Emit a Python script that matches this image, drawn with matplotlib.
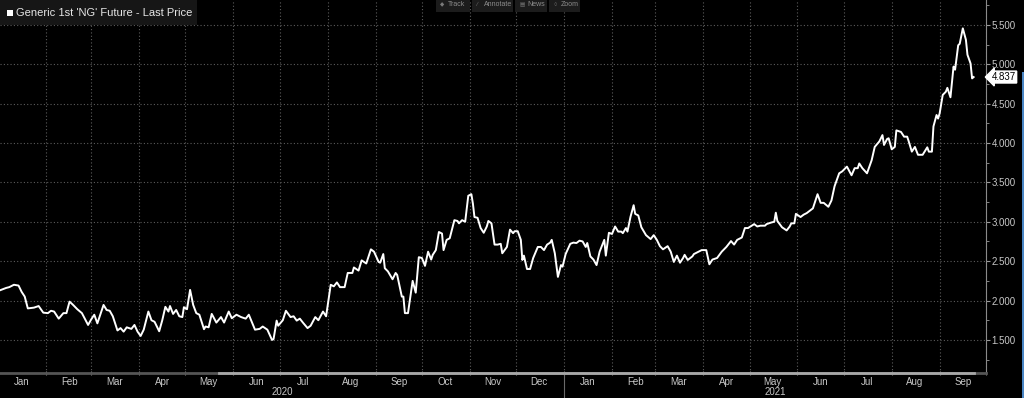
import numpy as np
import pandas as pd
import matplotlib
matplotlib.use("Agg")
import matplotlib.pyplot as plt
import matplotlib.dates as mdates
import matplotlib.ticker as mticker
import matplotlib.transforms as mtransforms
from matplotlib.patches import Rectangle

plt.rcParams['font.family'] = ['Liberation Sans', 'DejaVu Sans']

title = "Generic 1st 'NG' Future - Last Price"
toolbar_labels = ["Track", "Annotate", "News", "Zoom"]
toolbar_icons = ["\u25c6", "\u2215", "\u25a4", "\u25cb"]

# values (USD/MMBtu)
dates_2020 = [
    "2020-01-02", "2020-01-06", "2020-01-08", "2020-01-11", "2020-01-14", "2020-01-16",
    "2020-01-18", "2020-01-20", "2020-01-22", "2020-01-24", "2020-01-27", "2020-01-30",
    "2020-02-02", "2020-02-04", "2020-02-06", "2020-02-09", "2020-02-12", "2020-02-14",
    "2020-02-16", "2020-02-18", "2020-02-21", "2020-02-24", "2020-02-28", "2020-03-01",
    "2020-03-03", "2020-03-05", "2020-03-09", "2020-03-11", "2020-03-13", "2020-03-15",
    "2020-03-18", "2020-03-20", "2020-03-22", "2020-03-24", "2020-03-27", "2020-03-29",
    "2020-03-31", "2020-04-02", "2020-04-04", "2020-04-07", "2020-04-09", "2020-04-11",
    "2020-04-14", "2020-04-16", "2020-04-18", "2020-04-20", "2020-04-21", "2020-04-23",
    "2020-04-25", "2020-04-27", "2020-04-29", "2020-04-30", "2020-05-02", "2020-05-04",
    "2020-05-06", "2020-05-08", "2020-05-10", "2020-05-13", "2020-05-14", "2020-05-16",
    "2020-05-18", "2020-05-21", "2020-05-24", "2020-05-26", "2020-05-29", "2020-05-31",
    "2020-06-03", "2020-06-06", "2020-06-09", "2020-06-11", "2020-06-15", "2020-06-18",
    "2020-06-20", "2020-06-23", "2020-06-26", "2020-06-27", "2020-06-29", "2020-06-30",
    "2020-07-03", "2020-07-05", "2020-07-08", "2020-07-10", "2020-07-12", "2020-07-14",
    "2020-07-16", "2020-07-19", "2020-07-21", "2020-07-24", "2020-07-26", "2020-07-29",
    "2020-07-31", "2020-08-03", "2020-08-05", "2020-08-07", "2020-08-09", "2020-08-12",
    "2020-08-14", "2020-08-17", "2020-08-18", "2020-08-21", "2020-08-23", "2020-08-26",
    "2020-08-29", "2020-08-31", "2020-09-03", "2020-09-04", "2020-09-06", "2020-09-07",
    "2020-09-09", "2020-09-12", "2020-09-14", "2020-09-15", "2020-09-18", "2020-09-19",
    "2020-09-20", "2020-09-22", "2020-09-25", "2020-09-27", "2020-09-29", "2020-10-01",
    "2020-10-03", "2020-10-05", "2020-10-07", "2020-10-08", "2020-10-10", "2020-10-12",
    "2020-10-14", "2020-10-15", "2020-10-17", "2020-10-19", "2020-10-22", "2020-10-24",
    "2020-10-25", "2020-10-27", "2020-10-29", "2020-10-31", "2020-11-02", "2020-11-03",
    "2020-11-04", "2020-11-06", "2020-11-08", "2020-11-10", "2020-11-12", "2020-11-13",
    "2020-11-15", "2020-11-17", "2020-11-19", "2020-11-21", "2020-11-22", "2020-11-25",
    "2020-11-27", "2020-11-29", "2020-11-30", "2020-12-02", "2020-12-04", "2020-12-05",
    "2020-12-06", "2020-12-08", "2020-12-10", "2020-12-12", "2020-12-15", "2020-12-17",
    "2020-12-19", "2020-12-21", "2020-12-23", "2020-12-24", "2020-12-26", "2020-12-28",
    "2020-12-30", "2020-12-31",
]
prices_2020 = [
    2.13, 2.16, 2.17, 2.20, 2.19, 2.11,
    2.05, 1.90, 1.905, 1.91, 1.93, 1.846,
    1.84, 1.87, 1.86, 1.77, 1.84, 1.84,
    1.986, 1.95, 1.89, 1.84, 1.69, 1.76,
    1.82, 1.71, 1.944, 1.88, 1.87, 1.80,
    1.62, 1.65, 1.605, 1.66, 1.64, 1.69,
    1.605, 1.55, 1.63, 1.86, 1.75, 1.73,
    1.61, 1.75, 1.92, 1.86, 1.93, 1.83,
    1.88, 1.80, 1.79, 1.915, 1.89, 2.135,
    1.944, 1.84, 1.82, 1.636, 1.67, 1.66,
    1.83, 1.72, 1.79, 1.72, 1.86, 1.775,
    1.82, 1.79, 1.77, 1.82, 1.63, 1.64,
    1.67, 1.63, 1.50, 1.51, 1.745, 1.68,
    1.75, 1.87, 1.79, 1.80, 1.745, 1.77,
    1.72, 1.65, 1.68, 1.79, 1.75, 1.86,
    1.80, 2.20, 2.18, 2.23, 2.17, 2.17,
    2.35, 2.35, 2.42, 2.38, 2.51, 2.47,
    2.65, 2.62, 2.49, 2.48, 2.59, 2.41,
    2.37, 2.27, 2.35, 2.325, 2.05, 2.05,
    1.84, 1.84, 2.25, 2.10, 2.55, 2.54,
    2.44, 2.62, 2.52, 2.58, 2.64, 2.87,
    2.85, 2.64, 2.77, 2.79, 3.02, 3.01,
    2.98, 3.02, 3.00, 3.33, 3.35, 3.23,
    3.06, 3.05, 2.92, 2.86, 2.94, 3.01,
    2.98, 2.71, 2.71, 2.72, 2.60, 2.68,
    2.90, 2.855, 2.88, 2.88, 2.77, 2.515,
    2.57, 2.40, 2.40, 2.54, 2.68, 2.68,
    2.64, 2.71, 2.735, 2.77, 2.60, 2.30,
    2.45, 2.43,
]
dates_2021 = [
    "2021-01-02", "2021-01-05", "2021-01-07", "2021-01-09", "2021-01-11", "2021-01-13",
    "2021-01-15", "2021-01-16", "2021-01-18", "2021-01-20", "2021-01-22", "2021-01-24",
    "2021-01-27", "2021-01-28", "2021-01-30", "2021-02-01", "2021-02-03", "2021-02-05",
    "2021-02-07", "2021-02-08", "2021-02-10", "2021-02-11", "2021-02-13", "2021-02-15",
    "2021-02-16", "2021-02-18", "2021-02-20", "2021-02-23", "2021-02-26", "2021-02-28",
    "2021-03-02", "2021-03-04", "2021-03-06", "2021-03-09", "2021-03-11", "2021-03-13",
    "2021-03-15", "2021-03-17", "2021-03-19", "2021-03-20", "2021-03-22", "2021-03-25",
    "2021-03-26", "2021-03-29", "2021-03-31", "2021-04-03", "2021-04-05", "2021-04-07",
    "2021-04-10", "2021-04-13", "2021-04-16", "2021-04-19", "2021-04-21", "2021-04-23",
    "2021-04-26", "2021-04-28", "2021-04-30", "2021-05-04", "2021-05-06", "2021-05-08",
    "2021-05-11", "2021-05-12", "2021-05-15", "2021-05-17", "2021-05-18", "2021-05-19",
    "2021-05-22", "2021-05-25", "2021-05-27", "2021-05-28", "2021-05-30", "2021-05-31",
    "2021-06-03", "2021-06-05", "2021-06-07", "2021-06-09", "2021-06-11", "2021-06-14",
    "2021-06-16", "2021-06-18", "2021-06-21", "2021-06-23", "2021-06-25", "2021-06-28",
    "2021-06-30", "2021-07-03", "2021-07-06", "2021-07-08", "2021-07-10", "2021-07-11",
    "2021-07-13", "2021-07-16", "2021-07-19", "2021-07-21", "2021-07-24", "2021-07-26",
    "2021-07-27", "2021-07-29", "2021-07-30", "2021-08-01", "2021-08-03", "2021-08-04",
    "2021-08-07", "2021-08-09", "2021-08-11", "2021-08-12", "2021-08-14", "2021-08-16",
    "2021-08-18", "2021-08-21", "2021-08-24", "2021-08-25", "2021-08-27", "2021-08-28",
    "2021-08-30", "2021-08-31", "2021-09-01", "2021-09-03", "2021-09-05", "2021-09-06",
    "2021-09-08", "2021-09-10", "2021-09-11", "2021-09-13", "2021-09-14", "2021-09-16",
    "2021-09-18", "2021-09-19", "2021-09-21", "2021-09-22", "2021-09-23",
]
prices_2021 = [
    2.59, 2.72, 2.735, 2.73, 2.76, 2.75,
    2.68, 2.73, 2.56, 2.52, 2.45, 2.62,
    2.77, 2.57, 2.86, 2.845, 2.94, 2.875,
    2.875, 2.855, 2.92, 2.875, 3.065, 3.21,
    3.10, 3.08, 2.93, 2.83, 2.78, 2.83,
    2.77, 2.69, 2.65, 2.69, 2.62, 2.49,
    2.57, 2.48, 2.54, 2.58, 2.515, 2.56,
    2.59, 2.62, 2.64, 2.64, 2.46, 2.52,
    2.54, 2.62, 2.68, 2.755, 2.71, 2.77,
    2.80, 2.92, 2.92, 2.97, 2.94, 2.95,
    2.95, 2.97, 2.99, 3.00, 3.115, 3.01,
    2.93, 2.89, 2.94, 2.98, 2.98, 3.10,
    3.06, 3.09, 3.11, 3.14, 3.17, 3.35,
    3.24, 3.24, 3.19, 3.27, 3.45, 3.615,
    3.64, 3.70, 3.59, 3.68, 3.68, 3.74,
    3.68, 3.615, 3.78, 3.95, 4.02, 4.10,
    3.975, 4.05, 4.06, 3.92, 3.95, 4.16,
    4.14, 4.08, 4.08, 4.02, 3.89, 3.95,
    3.85, 3.85, 3.945, 3.89, 3.89, 4.21,
    4.355, 4.31, 4.375, 4.61, 4.65, 4.70,
    4.58, 4.97, 4.93, 5.24, 5.26, 5.455,
    5.31, 5.12, 5.01, 4.82, 4.837,
]
y_ticks = [1.5, 2.0, 2.5, 3.0, 3.5, 4.0, 4.5, 5.0, 5.5]
years = ["2020", "2021"]

dates = pd.to_datetime(dates_2020 + dates_2021)
prices = np.array(prices_2020 + prices_2021)

W, H = 1024, 398
fig = plt.figure(figsize=(W / 100, H / 100), dpi=100, facecolor="black")
ax = fig.add_axes([0, 25 / H, 986 / W, 373 / H])
ax.set_facecolor("black")

ax.plot(dates, prices, color="white", lw=1.4, solid_joinstyle="round", zorder=3)

x_start, x_end = pd.Timestamp("2020-01-02"), pd.Timestamp("2021-10-01")
ax.set_xlim(x_start, x_end)
ax.set_ylim(1.08, 5.815)

grid_kw = dict(color="#5c5c5c", linestyle=(0, (1, 2)), lw=0.8)
ax.grid(True, which="major", **grid_kw)

# x axis: gridlines at month starts, labels mid-month
ax.xaxis.set_major_locator(mdates.MonthLocator())
ax.xaxis.set_major_formatter(mticker.NullFormatter())
ax.xaxis.set_minor_locator(mdates.MonthLocator(bymonthday=16))
ax.xaxis.set_minor_formatter(mdates.DateFormatter("%b"))
ax.tick_params(axis="x", which="major", length=3, direction="inout", color="#8a8a8a")
ax.tick_params(axis="x", which="minor", length=0, labelsize=7, labelcolor="#c8c8c8", pad=3)

# y axis on the right
ax.yaxis.tick_right()
ax.set_yticks(y_ticks)
ax.yaxis.set_major_formatter(mticker.FuncFormatter(lambda v, p: f"{v:.3f}"))
ax.yaxis.set_minor_locator(mticker.MultipleLocator(0.25))
ax.tick_params(axis="y", which="major", length=3, color="#9a9a9a", labelsize=7,
               labelcolor="#c8c8c8", pad=1)
ax.tick_params(axis="y", which="minor", length=2, color="#9a9a9a")

for s in ["top", "left"]:
    ax.spines[s].set_visible(False)
ax.spines["right"].set_color("#8a8a8a")
ax.spines["bottom"].set_color("#555555")
ax.spines["bottom"].set_linewidth(2)

blend = mtransforms.blended_transform_factory(ax.transData, ax.transAxes)
# highlighted range on the date bar
ax.plot([pd.Timestamp("2020-05-23"), dates[-1]], [0, 0], transform=blend,
        color="#a8a8a8", lw=2, clip_on=False, zorder=4)

# year labels and separator
for yr in years:
    y0 = max(pd.Timestamp(f"{yr}-01-01"), x_start)
    y1 = min(pd.Timestamp(f"{int(yr) + 1}-01-01"), x_end)
    ax.text(y0 + (y1 - y0) / 2, -19 / 373, yr, transform=blend, ha="center",
            va="center", fontsize=7, color="#c8c8c8")
ax.plot([pd.Timestamp("2021-01-01")] * 2, [0, -25 / 373], transform=blend,
        color="#6a6a6a", lw=0.8, clip_on=False)

# last price tag
ax.annotate(f"{prices[-1]:.3f}", xy=(1, prices[-1]),
            xycoords=mtransforms.blended_transform_factory(ax.transAxes, ax.transData),
            xytext=(4, 0), textcoords="offset points", ha="left", va="center",
            fontsize=7, color="black", annotation_clip=False,
            bbox=dict(boxstyle="larrow,pad=0.1", fc="white", ec="white"))

# legend box top-left
fig.patches.append(Rectangle((0, 1 - 25 / H), 197 / W, 25 / H, transform=fig.transFigure,
                             fc="#161616", ec="none", zorder=5))
fig.patches.append(Rectangle((7 / W, 1 - 16 / H), 6 / W, 6 / H, transform=fig.transFigure,
                             fc="white", ec="none", zorder=6))
fig.text(16 / W, 1 - 13 / H, title, fontsize=8, color="#e6e6e6", va="center", ha="left",
         zorder=7)

# toolbar
tb_boxes = [(436, 470), (472, 513), (515, 547), (549, 580)]
for (x0, x1), icon, lab in zip(tb_boxes, toolbar_icons, toolbar_labels):
    fig.patches.append(Rectangle((x0 / W, 1 - 12 / H), (x1 - x0) / W, 12 / H,
                                 transform=fig.transFigure, fc="#1c1c1c", ec="none", zorder=5))
    fig.text((x0 + 4) / W, 1 - 5 / H, icon, fontsize=4, color="#7a7a7a", va="center",
             ha="left", zorder=7)
    fig.text((x0 + 12) / W, 1 - 5 / H, lab, fontsize=5, color="#8c8c8c", va="center",
             ha="left", zorder=7)

# window border on the right
fig.patches.append(Rectangle((1022 / W, 0), 2 / W, 1 - 72 / H, transform=fig.transFigure,
                             fc="#4a86c5", ec="none", zorder=5))

fig.savefig("out.png", dpi=100, facecolor="black")
